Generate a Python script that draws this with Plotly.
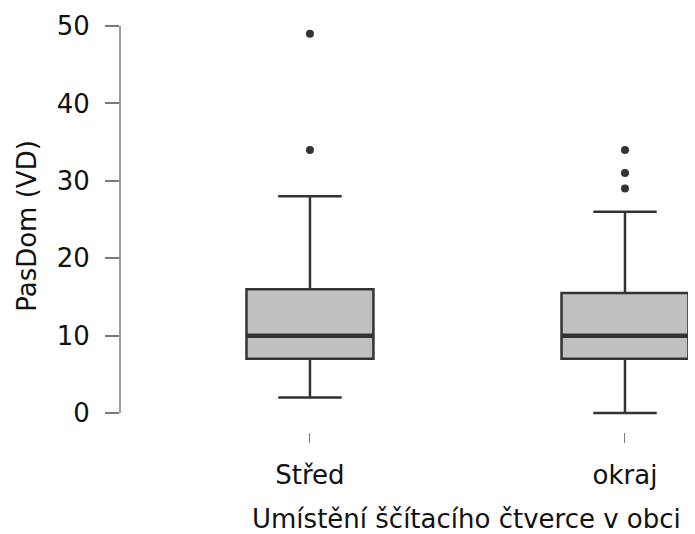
import plotly.graph_objects as go

categories = ["Střed", "okraj"]
q1 = [7, 7]
median = [10, 10]
q3 = [16, 15.5]
lower_whisker = [2, 0]
upper_whisker = [28, 26]
outliers = [[49, 34], [34, 31, 29]]
y_ticks = [0, 10, 20, 30, 40, 50]
x_title = "Umístění šč\u00edtacího čtverce v obci"
y_title = "PasDom (VD)"

positions = list(range(len(categories)))
box_w = 0.403
FONT = "DejaVu Sans"
DARK = "#333333"

fig = go.Figure()
for i, cat in enumerate(categories):
    fig.add_trace(go.Box(
        x=[positions[i]], q1=[q1[i]], median=[median[i]], q3=[q3[i]],
        lowerfence=[lower_whisker[i]], upperfence=[upper_whisker[i]],
        width=box_w, whiskerwidth=0.5, fillcolor="#C0C0C0",
        line=dict(color=DARK, width=2.5), boxpoints=False, name=cat,
        hoverinfo="skip"))
    fig.add_trace(go.Scatter(
        x=[positions[i] - box_w / 2, positions[i] + box_w / 2],
        y=[median[i], median[i]], mode="lines",
        line=dict(color=DARK, width=4.5), hoverinfo="skip"))
    fig.add_trace(go.Scatter(
        x=[positions[i]] * len(outliers[i]), y=outliers[i], mode="markers",
        marker=dict(color=DARK, size=8), hoverinfo="skip"))

fig.add_shape(type="line", xref="paper", yref="y", x0=0, x1=0,
              y0=y_ticks[0], y1=y_ticks[-1],
              line=dict(color="#7a7a7a", width=1.5))

fig.add_annotation(text=x_title, xref="paper", yref="paper",
                   x=0.61, y=-0.212, xanchor="center", yanchor="middle",
                   showarrow=False, font=dict(size=26, family=FONT, color="#111111"))

fig.update_layout(
    width=695, height=534, showlegend=False,
    plot_bgcolor="white", paper_bgcolor="white",
    margin=dict(l=120, r=7, t=20, b=102),
    font=dict(family=FONT, size=26, color="#111111"),
)
fig.update_xaxes(
    range=[-0.603, 1.2], tickmode="array", tickvals=positions,
    ticktext=categories, showgrid=False, zeroline=False, showline=False,
    ticks="outside", ticklen=10, tickwidth=1, tickcolor="#7a7a7a",
    ticklabelstandoff=10,
    tickfont=dict(size=26),
)
fig.update_yaxes(
    range=[-2.45, 50.78], tickmode="array", tickvals=y_ticks,
    showgrid=False, zeroline=False, showline=False,
    ticks="outside", ticklen=14, tickwidth=1.5, tickcolor="#7a7a7a",
    ticklabelstandoff=10,
    title=dict(text=y_title, standoff=12, font=dict(size=26)),
    tickfont=dict(size=26),
)

fig.write_html("out.html", config={"displayModeBar": False},
               post_script="document.body.style.margin='0';document.body.style.padding='0';")
